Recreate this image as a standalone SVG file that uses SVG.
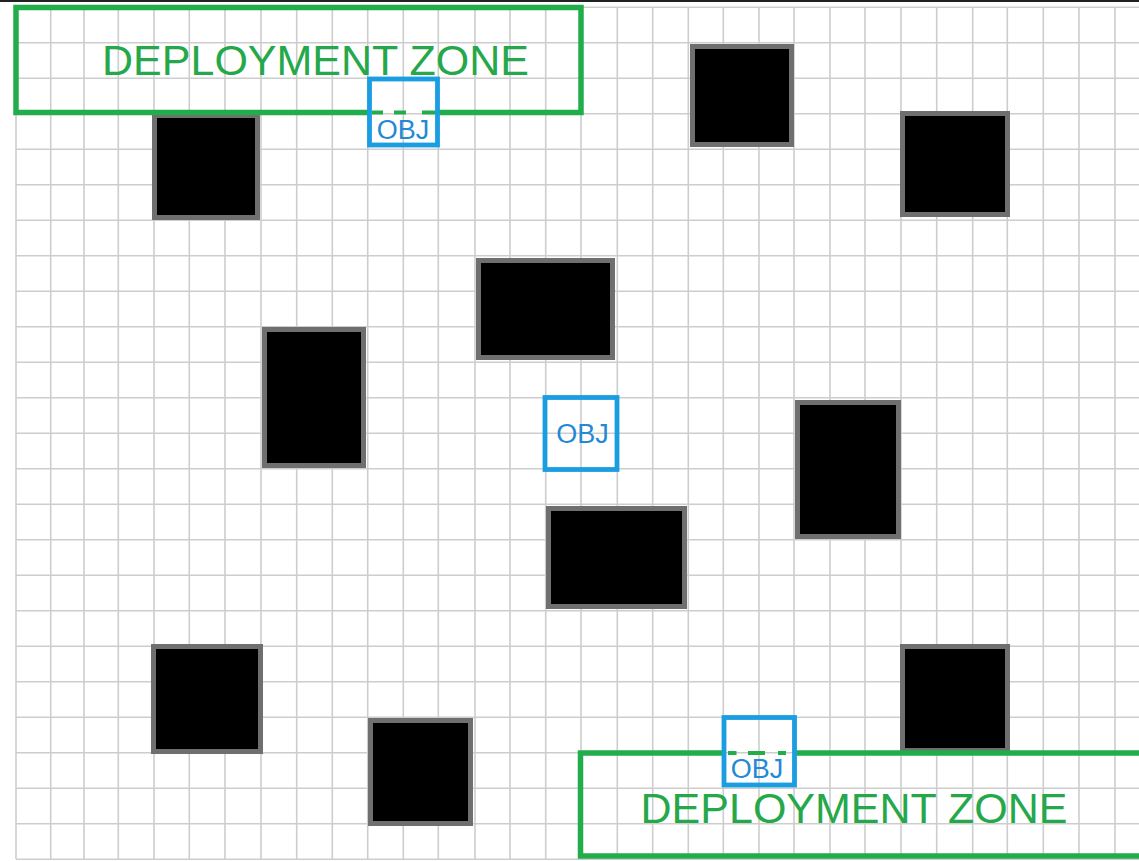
<svg xmlns="http://www.w3.org/2000/svg" width="1139" height="861" viewBox="0 0 1139 861">
<style>
.grid{stroke:#cdcdcd;stroke-width:1.6;fill:none}
.block{fill:#000;stroke:#6f6f6f;stroke-width:5}
.zone{fill:none;stroke:#22ad4b;stroke-width:5.5}
.zdash{stroke:#22ad4b;stroke-width:4}
.ztext{font-family:"Liberation Sans",Arial,sans-serif;font-size:43px;fill:#25a84a;text-anchor:middle}
.obj{fill:none;stroke:#1b9de2;stroke-width:4.8}
.otext{font-family:"Liberation Sans",Arial,sans-serif;font-size:27px;fill:#2388d6;text-anchor:middle}
</style>
<rect x="0" y="0" width="1139" height="861" fill="#fff"/>
<rect x="0" y="0" width="1139" height="2" fill="#222"/>
<g id="grid">
<path class="grid" d="M16 7V859M50.7 7V859M84 7V859M118.3 7V859M154 7V859M189.3 7V859M225 7V859M261 7V859M296.7 7V859M332.3 7V859M367.7 7V859M403.3 7V859M438.3 7V859M475 7V859M510 7V859M545.7 7V859M581 7V859M617.3 7V859M652.7 7V859M688.3 7V859M723.3 7V859M759 7V859M794 7V859M830 7V859M865 7V859M901 7V859M936.7 7V859M972.7 7V859M1007.3 7V859M1043.3 7V859M1079 7V859M1115 7V859"/>
<path class="grid" d="M16 7.3H1139M16 42.8H1139M16 78.3H1139M16 113.8H1139M16 149.3H1139M16 184.8H1139M16 220.3H1139M16 255.8H1139M16 291.3H1139M16 326.8H1139M16 362.3H1139M16 397.8H1139M16 433.3H1139M16 468.8H1139M16 504.3H1139M16 539.8H1139M16 575.3H1139M16 610.8H1139M16 646.3H1139M16 681.8H1139M16 717.3H1139M16 752.8H1139M16 788.3H1139M16 823.8H1139M16 859.3H1139"/>
</g>
<g id="blocks">
<rect id="block1" class="block" x="154.5" y="115.5" width="103" height="102"/>
<rect id="block2" class="block" x="692.5" y="46.5" width="99" height="98"/>
<rect id="block3" class="block" x="902.5" y="113.5" width="105" height="101"/>
<rect id="block4" class="block" x="478.5" y="260.5" width="134" height="97"/>
<rect id="block5" class="block" x="264.5" y="329.5" width="99" height="136"/>
<rect id="block6" class="block" x="797.5" y="402.5" width="101" height="134"/>
<rect id="block7" class="block" x="548.5" y="508.5" width="136" height="98"/>
<rect id="block8" class="block" x="153.5" y="646.5" width="107" height="105"/>
<rect id="block9" class="block" x="370.5" y="720.5" width="100" height="103"/>
<rect id="block10" class="block" x="902.5" y="646.5" width="105" height="104"/>
</g>
<g id="zone-top">
<path class="zone" d="M369.5 112.5H16V7.5H581V112.5H437.5"/>
<path class="zdash" d="M372 112.5H383M394 112.5H406M422 112.5H436"/>
<text class="ztext" x="315.5" y="75">DEPLOYMENT ZONE</text>
</g>
<g id="zone-bottom">
<path class="zone" d="M724 753H580.5V856H1145M794.5 753H1145"/>
<path class="zdash" d="M728 753H736.5M748 753H765M778 753H786"/>
<text class="ztext" x="854" y="823">DEPLOYMENT ZONE</text>
</g>
<g id="obj-top">
<rect class="obj" x="369.5" y="79" width="68" height="66"/>
<text class="otext" x="403" y="138.5">OBJ</text>
</g>
<g id="obj-mid">
<rect class="obj" x="545" y="397.5" width="72" height="72"/>
<text class="otext" x="582.5" y="443">OBJ</text>
</g>
<g id="obj-bottom">
<rect class="obj" x="724" y="717.5" width="70.5" height="67.5"/>
<text class="otext" x="757" y="777.5">OBJ</text>
</g>
</svg>
